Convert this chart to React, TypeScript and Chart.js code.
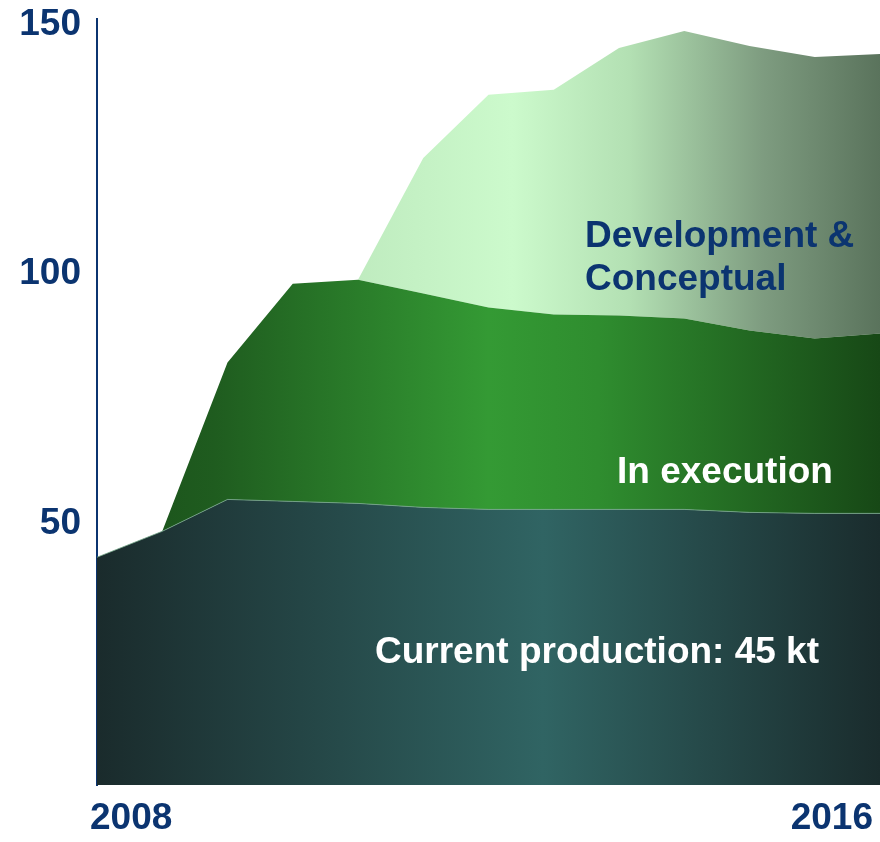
import React, { useEffect, useRef } from "react";
import { Chart, registerables } from "chart.js";

Chart.register(...registerables);

// ---- data ----
const xTickLabels = ["2008", "", "", "", "", "", "", "", "", "", "", "", "2016"];
const yTickValues = [50, 100, 150];
const currentProduction = [43.2, 48.4, 54.8, 54.4, 54.0, 53.2, 52.8, 52.8, 52.8, 52.8, 52.2, 52.0, 52.0];
const inExecution = [0, 0, 27.5, 43.7, 44.9, 42.9, 40.5, 39.1, 38.9, 38.3, 36.5, 35.1, 36.1];
const developmentConceptual = [0, 0, 0, 0, 0, 27.2, 42.7, 45.1, 53.7, 57.7, 57.1, 56.5, 56.1];

const seriesNames = ["Current production: 45 kt", "In execution", "Development & Conceptual"];

const NAVY = "#0b3470";
const FONT = 'Arial, "Liberation Sans", sans-serif';

type Stop = [number, string];
const prodStops: Stop[] = [[0, "#1a2b2c"], [0.57, "#306463"], [1, "#1a2c2d"]];
const execStops: Stop[] = [[0, "#1a4f1a"], [0.15, "#1f5c1f"], [0.5, "#349a34"], [0.64, "#2f8d2f"], [1, "#174816"]];
const devStops: Stop[] = [[0, "#b0dcb0"], [0.3, "#bde9bd"], [0.53, "#ccfacc"], [0.68, "#b3e0b3"], [0.85, "#7e9c80"], [1, "#5a735c"]];

function gradient(stops: Stop[]) {
  return (ctx: any) => {
    const chart = ctx.chart;
    const area = chart.chartArea;
    if (!area) return stops[0][1];
    const g = chart.ctx.createLinearGradient(area.left, 0, area.right, 0);
    stops.forEach(([o, c]) => g.addColorStop(o, c));
    return g;
  };
}

// text labels drawn inside areas (layout only)
const areaLabels = [
  { lines: ["Development &", "Conceptual"], x: 585, y: 247, color: NAVY },
  { lines: ["In execution"], x: 617, y: 483, color: "#ffffff" },
  { lines: ["Current production: 45 kt"], x: 375, y: 663, color: "#ffffff" },
];

const labelPlugin = {
  id: "areaLabels",
  afterDatasetsDraw(chart: any) {
    const c = chart.ctx;
    c.save();
    c.font = `bold 37px ${FONT}`;
    c.textAlign = "left";
    c.textBaseline = "alphabetic";
    areaLabels.forEach((l) => {
      c.fillStyle = l.color;
      l.lines.forEach((t, i) => c.fillText(t, l.x, l.y + i * 43));
    });
    c.restore();
  },
};

export default function App() {
  const ref = useRef<HTMLCanvasElement | null>(null);
  useEffect(() => {
    if (!ref.current) return;
    const chart = new Chart(ref.current, {
      type: "line",
      data: {
        labels: xTickLabels,
        datasets: [
          {
            label: seriesNames[0],
            data: currentProduction,
            fill: "start",
            backgroundColor: gradient(prodStops),
            borderColor: "rgba(120,170,140,0.8)",
            borderWidth: 1,
            pointRadius: 0,
            tension: 0,
          },
          {
            label: seriesNames[1],
            data: inExecution,
            fill: "-1",
            backgroundColor: gradient(execStops),
            borderWidth: 0,
            pointRadius: 0,
            tension: 0,
          },
          {
            label: seriesNames[2],
            data: developmentConceptual,
            fill: "-1",
            backgroundColor: gradient(devStops),
            borderWidth: 0,
            pointRadius: 0,
            tension: 0,
          },
        ],
      },
      options: {
        animation: false,
        responsive: false,
        devicePixelRatio: 1,
        layout: { padding: { top: 19, right: 0, left: 0, bottom: 0 } },
        plugins: { legend: { display: false }, tooltip: { enabled: false } },
        scales: {
          x: {
            offset: false,
            grid: { display: false, drawTicks: false },
            border: { display: false },
            ticks: {
              autoSkip: false,
              maxRotation: 0,
              align: "inner",
              labelOffset: -7,
              padding: 12,
              color: NAVY,
              font: { family: FONT, size: 37, weight: "bold", lineHeight: 1.2 },
              callback: (_v: any, i: number) => xTickLabels[i],
            },
            afterFit: (s: any) => {
              s.height = 57;
              s.paddingLeft = 0;
              s.paddingRight = 0;
            },
          },
          y: {
            stacked: true,
            min: -2.5,
            max: 151.2,
            grid: { display: false, drawTicks: false },
            border: { display: true, color: NAVY, width: 2 },
            afterBuildTicks: (s: any) => { s.ticks = yTickValues.map((v) => ({ value: v })); },
            afterFit: (s: any) => {
              s.width = 97;
              s.paddingTop = 0;
              s.paddingBottom = 0;
            },
            ticks: {
              padding: 16,
              color: NAVY,
              font: { family: FONT, size: 37, weight: "bold", lineHeight: 1 },
            },
          },
        },
      },
      plugins: [labelPlugin],
    } as any);
    return () => chart.destroy();
  }, []);
  return (
    <div style={{ position: "absolute", left: 0, top: 0, width: 880, height: 842, background: "#fff" }}>
      <canvas ref={ref} width={880} height={842} style={{ width: 880, height: 842, display: "block" }} />
    </div>
  );
}
